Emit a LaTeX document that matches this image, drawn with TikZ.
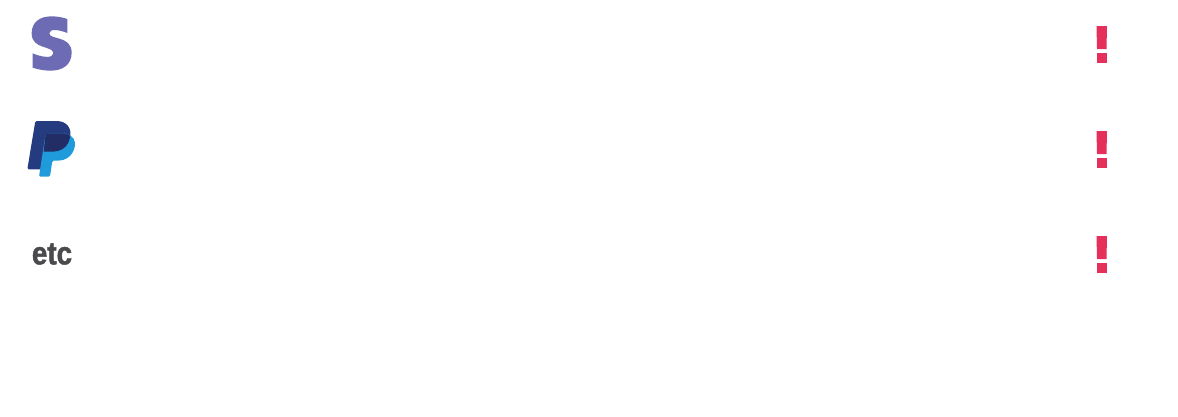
\documentclass[tikz,border=0pt]{standalone}
\usepackage{fontspec}
\usepackage{xcolor}
\newfontfamily\etcfont[FakeStretch=0.86,FakeBold=1.5]{Liberation Sans Bold}
\definecolor{stripeviolet}{HTML}{6C6BB3}
\definecolor{paypaldark}{HTML}{253B80}
\definecolor{paypallight}{HTML}{1F9BDC}
\definecolor{paypalmid}{HTML}{222D65}
\definecolor{etcgray}{HTML}{4A4A4C}
\definecolor{alertred}{HTML}{E4305A}
\begin{document}
\begin{tikzpicture}[x=0.025cm, y=-0.025cm]
  \useasboundingbox (0,0) rectangle (1178,416);
  % stripe mark, traced at 3x
  \begin{scope}[shift={(10,0)}, x=0.025cm/3, y=-0.025cm/3]
    \fill[stripeviolet] (172,57) .. controls (158,52) and (142,49) .. (124,49)
      .. controls (90,49) and (65,66) .. (65,100)
      .. controls (65,150) and (130,136) .. (130,160)
      .. controls (130,176) and (95,172) .. (68,160) -- (68,203)
      .. controls (85,209) and (105,212) .. (122,212)
      .. controls (158,212) and (185,194) .. (185,158)
      .. controls (185,106) and (118,120) .. (118,100)
      .. controls (118,84) and (150,90) .. (172,99) -- cycle;
  \end{scope}
  % paypal mark
  \begin{scope}[shift={(10,105)}, x=0.025cm/3, y=-0.025cm/3]
    \fill[paypaldark, rounded corners=1pt] (76,48) -- (135,48) .. controls (170,48) and (185,70) .. (180,97)
      .. controls (175,125) and (155,140) .. (125,140) -- (103,140) -- (95,193)
      -- (52,193) -- cycle;
    \fill[paypallight, rounded corners=1pt] (107,85) -- (160,85) .. controls (168,85) and (175,88) .. (180,92)
      .. controls (195,100) and (198,120) .. (190,138)
      .. controls (182,155) and (165,167) .. (140,167) -- (127,167) -- (120,215)
      -- (87,215) -- cycle;
    \fill[paypalmid] (107,85) -- (160,85) .. controls (168,85) and (175,88) .. (180,92)
      -- (180,97) .. controls (175,125) and (155,140) .. (125,140) -- (101,140) -- cycle;
  \end{scope}
  \node[text=etcgray, font=\etcfont\fontsize{23}{23}\selectfont, inner sep=0pt] (etc) at (52,254) {etc};
  % alert marks
  \foreach \y in {0,105,210}{
    \fill[alertred] (1096.5,26+\y) -- (1107,26+\y) -- (1106.5,49+\y) -- (1097,49+\y) -- cycle;
    \fill[alertred] (1096.5,53+\y) rectangle (1106.8,63+\y);
  }
\end{tikzpicture}
\end{document}
